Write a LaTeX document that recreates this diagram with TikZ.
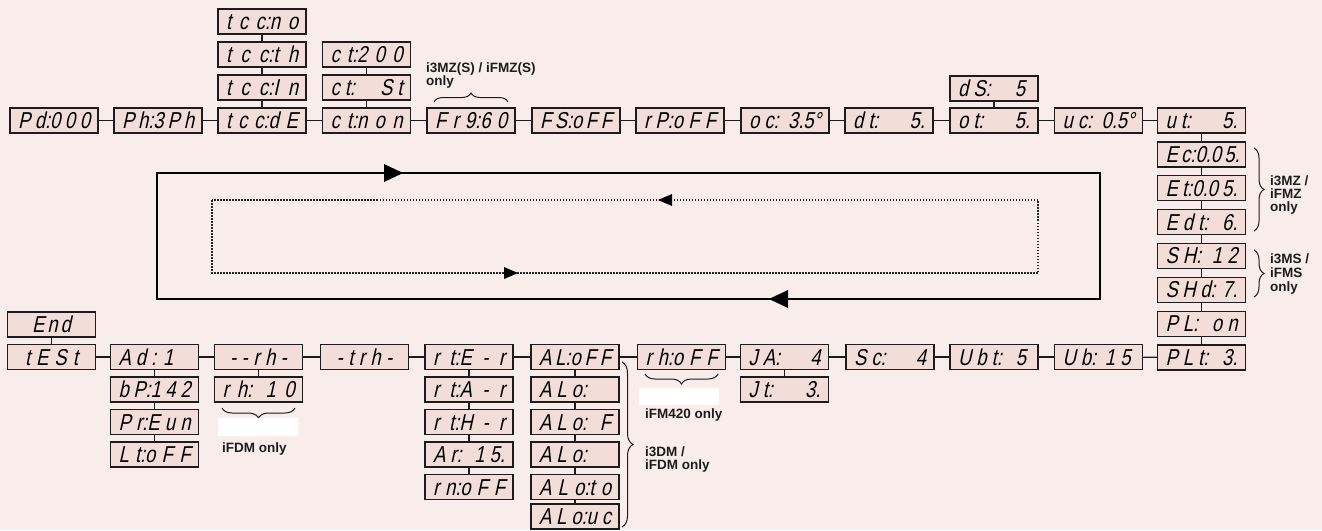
\documentclass[tikz,border=0pt]{standalone}
\usepackage{fontspec}
\usetikzlibrary{decorations.pathreplacing}
\newfontfamily\lcdfam{Liberation Sans}[FakeStretch=0.8, FakeSlant=0.22]
\newfontfamily\notefam{Liberation Sans}
\definecolor{bgc}{RGB}{249,237,235}
\definecolor{boxc}{RGB}{242,221,217}
\definecolor{inkc}{RGB}{28,28,28}
\newcommand\lcdfont{\lcdfam\fontsize{23}{23}\selectfont}
\newcommand\notefont{\notefam\bfseries\fontsize{13.5}{13.5}\selectfont}
\newcommand\lcd[1]{\makebox[72pt][s]{#1}}
\newcommand\gp[1]{\hspace{#1pt}}
\begin{document}
\begin{tikzpicture}[x=1pt,y=-1pt,
  lcdbox/.style={draw=inkc, line width=1.4pt, fill=boxc, minimum width=88pt,
    minimum height=25pt, inner sep=0pt, font=\lcdfont, text height=16pt, text depth=0pt},
  link/.style={line width=1.3pt, draw=inkc},
  note/.style={font=\notefont, anchor=base west, inner sep=0pt, text=inkc},
  bracedeco/.style={decorate, decoration={brace, amplitude=#1}, line width=1pt, draw=inkc},
  bracedeco/.default=9pt,
  loopline/.style={line width=2pt, draw=black},
  dotline/.style={line width=1.2pt, draw=black!85, dash pattern=on 1.5pt off 1.5pt},
  blank/.style={fill=white, draw=none}
]
\fill[bgc] (0,0) rectangle (1322,530);
\useasboundingbox (0,0) rectangle (1322,530);

% ---------- loops ----------
\draw[loopline] (157,173) rectangle (1100,299);
\fill (384,164) -- (403,173) -- (384,182) -- cycle;
\fill (788,290) -- (769,299) -- (788,308) -- cycle;
\draw[dotline] (212,200) rectangle (1038,273);
\fill (504,267) -- (518,273) -- (504,279) -- cycle;
\fill (672,194) -- (658,200) -- (672,206) -- cycle;

% ---------- top row ----------
\node[lcdbox] (pd)   at (54,120.5)   {\lcd{P d:0 0 0}};
\node[lcdbox] (ph)   at (158,120.5)  {\lcd{P h:3 P h}};
\node[lcdbox] (tcc)  at (262,120.5)  {\lcd{t c c:d E}};
\node[lcdbox] (tccin) at (262,87.5)  {\lcd{t c c:I n}};
\node[lcdbox] (tccth) at (262,54.5)  {\lcd{t c c:t h}};
\node[lcdbox] (tccno) at (262,21.5)  {\lcd{t c c:n o}};
\node[lcdbox] (ct)   at (366.5,120.5) {\lcd{c t:n o n}};
\node[lcdbox] (ctst) at (366.5,87.5) {\lcd{c t: \hfill S t}};
\node[lcdbox] (ctzz) at (366.5,54.5) {\lcd{c t:2 0 0}};
\node[lcdbox] (fr)   at (471,120.5)  {\lcd{F r 9:6 0}};
\node[lcdbox] (fs)   at (576,120.5)  {\lcd{F S:o F F}};
\node[lcdbox] (rp)   at (680,120.5)  {\lcd{r P:o F F}};
\node[lcdbox] (oc)   at (785,120.5)  {\lcd{o c: \hfill 3.5°}};
\node[lcdbox] (dt)   at (889,120.5)  {\lcd{d t: \hfill 5.}};
\node[lcdbox] (ot)   at (994,120.5)  {\lcd{o t: \hfill 5.}};
\node[lcdbox] (ds)   at (994,88.5)   {\lcd{d S: \hfill 5\gp{5}}};
\node[lcdbox] (uc)   at (1098.5,120.5) {\lcd{u c: \hfill 0.5°}};
\node[lcdbox] (ut)   at (1201.5,120.5) {\lcd{u t: \hfill 5.}};
% right column
\node[lcdbox] (ec)   at (1201.5,154.4) {\lcd{E c:0.0 5.}};
\node[lcdbox] (et)   at (1201.5,188.2) {\lcd{E t:0.0 5.}};
\node[lcdbox] (edt)  at (1201.5,222.1) {\lcd{E d t: \hfill 6.}};
\node[lcdbox] (sh)   at (1201.5,255.9) {\lcd{S H: \hfill 1 2}};
\node[lcdbox] (shd)  at (1201.5,289.8) {\lcd{S H d: \hfill 7.}};
\node[lcdbox] (pl)   at (1201.5,323.7) {\lcd{P L: \hfill o n}};
\node[lcdbox] (plt)  at (1201.5,357.5) {\lcd{P L t: \hfill 3.}};

% ---------- bottom row ----------
\node[lcdbox] (test) at (51.5,357)   {\lcd{\hfill t\gp{6}E\gp{6}S\gp{6}t\hfill}};
\node[lcdbox] (end)  at (51.5,324.5) {\lcd{\hfill E\gp{3}n\gp{3}d\hfill}};
\node[lcdbox] (ad)   at (154.5,357)  {\lcd{A d : 1\hfill}};
\node[lcdbox] (bp)   at (154.5,389.5) {\lcd{b P:1 4 2}};
\node[lcdbox] (pr)   at (154.5,422) {\lcd{P r:E u n}};
\node[lcdbox] (lt)   at (154.5,454.5) {\lcd{L t:o F F}};
\node[lcdbox] (mrh)  at (258.5,357)  {\lcd{\hfill -\gp{5.5}-\gp{5.5}r\gp{5.5}h\gp{5.5}-\hfill}};
\node[lcdbox] (rhten) at (258.5,389.5) {\lcd{r h: 1 0}};
\node[lcdbox] (trh)  at (364.5,357)  {\lcd{\hfill -\gp{5.5}t\gp{5.5}r\gp{5.5}h\gp{5.5}-\hfill}};
\node[lcdbox] (rt)   at (469,357)    {\lcd{r t:E - r}};
\node[lcdbox] (rta)  at (469,389.5)  {\lcd{r t:A - r}};
\node[lcdbox] (rth)  at (469,422)  {\lcd{r t:H - r}};
\node[lcdbox] (ar)   at (469,454.5)  {\lcd{A r: \hfill 1 5.}};
\node[lcdbox] (rn)   at (469,487)  {\lcd{r n:o F F}};
\node[lcdbox] (al)   at (575,357)    {\lcd{A L:o F F}};
\node[lcdbox] (aloa) at (575,389.5)  {\lcd{A L o:\hfill}};
\node[lcdbox] (alob) at (575,422)  {\lcd{A L o: \hfill F}};
\node[lcdbox] (aloc) at (575,454.5)  {\lcd{A L o:\hfill}};
\node[lcdbox] (alod) at (575,487)  {\lcd{A L o:t o}};
\node[lcdbox] (aloe) at (575,516.5)  {\lcd{A L o:u c}};
\node[lcdbox] (rhoff) at (681.5,357) {\lcd{r h:o F F}};
\node[lcdbox] (ja)   at (784.5,357)  {\lcd{J A: \hfill 4}};
\node[lcdbox] (jt)   at (784.5,389.5) {\lcd{J t: \hfill 3.}};
\node[lcdbox] (sc)   at (890,357)    {\lcd{S c: \hfill 4}};
\node[lcdbox] (ubt)  at (994,357)    {\lcd{U b t: \hfill 5\gp{4}}};
\node[lcdbox] (ub)   at (1098.5,357) {\lcd{U b: \hfill 1 5\gp{4}}};

% ---------- connectors ----------
\foreach \a/\b in {pd/ph, ph/tcc, tcc/ct, ct/fr, fr/fs, fs/rp, rp/oc, oc/dt, dt/ot, ot/uc, uc/ut,
  tcc/tccin, tccin/tccth, tccth/tccno, ct/ctst, ctst/ctzz, ot/ds,
  ut/ec, ec/et, et/edt, edt/sh, sh/shd, shd/pl, pl/plt,
  test/ad, ad/mrh, mrh/trh, trh/rt, rt/al, al/rhoff, rhoff/ja, ja/sc, sc/ubt, ubt/ub, ub/plt,
  end/test, ad/bp, bp/pr, pr/lt, mrh/rhten, rt/rta, rta/rth, rth/ar, ar/rn,
  al/aloa, aloa/alob, alob/aloc, aloc/alod, alod/aloe, ja/jt}
  \draw[link] (\a) -- (\b);

% ---------- braces and notes ----------
\draw[bracedeco] (434,102) -- (508,102);
\node[note] (n1a) at (426,72) {i3MZ(S) / iFMZ(S)};
\node[note] (n1b) at (426,85) {only};

\draw[bracedeco=10pt] (1254,148) -- (1254,231);
\node[note] (n2a) at (1270,185) {i3MZ /};
\node[note] (n2b) at (1270,198) {iFMZ};
\node[note] (n2c) at (1270,211) {only};

\draw[bracedeco=10pt] (1254,250) -- (1254,297);
\node[note] (n3a) at (1270,263) {i3MS /};
\node[note] (n3b) at (1270,277) {iFMS};
\node[note] (n3c) at (1270,291) {only};

\draw[bracedeco=10pt] (295,408) -- (222,408);
\fill[blank] (218,418) rectangle (298,436);
\node[note] (n4) at (222,452) {iFDM only};

\draw[bracedeco=10pt] (718,374) -- (645,374);
\fill[blank] (639,388) rectangle (719,405);
\node[note] (n5) at (645,418) {iFM420 only};

\draw[bracedeco=11pt] (622,362) -- (622,527);
\node[note] (n6a) at (645,456) {i3DM /};
\node[note] (n6b) at (645,469) {iFDM only};
\end{tikzpicture}
\end{document}
